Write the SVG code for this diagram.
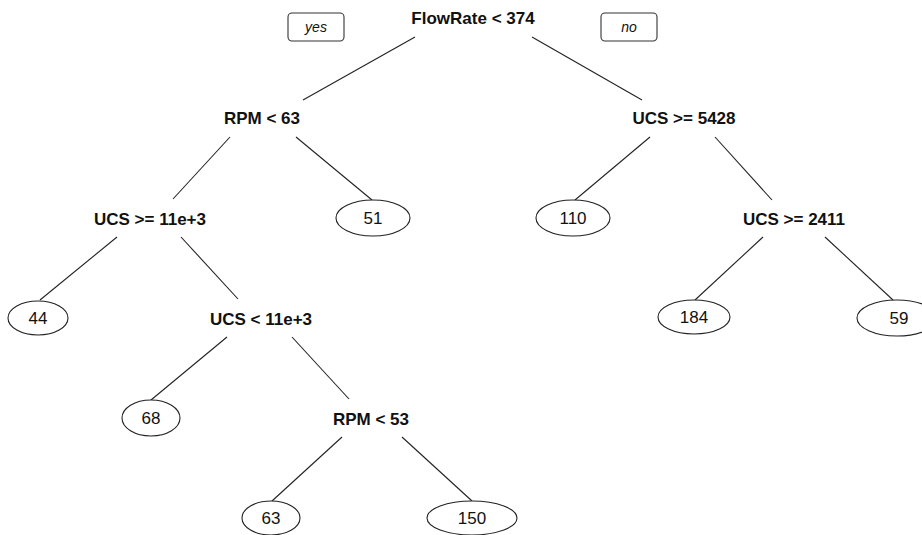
<svg xmlns="http://www.w3.org/2000/svg" width="922" height="535" viewBox="0 0 922 535">
<style>
.bg{fill:#ffffff}
.split{font-family:"Liberation Sans",Arial,sans-serif;font-size:17px;font-weight:bold;fill:#111;text-anchor:middle}
.leaf ellipse{fill:#ffffff;stroke:#222;stroke-width:1.1}
.leaf text{font-family:"Liberation Sans",Arial,sans-serif;font-size:17px;fill:#111;text-anchor:middle}
.tag rect{fill:#ffffff;stroke:#333;stroke-width:1.1}
.tag text{font-family:"Liberation Sans",Arial,sans-serif;font-size:14px;font-style:italic;fill:#111;text-anchor:middle}
#connectors line{stroke:#222;stroke-width:1.1}
</style>
<rect class="bg" x="0" y="0" width="922" height="535"/>
<g id="connectors">
<line x1="415" y1="37" x2="303" y2="100"/>
<line x1="532" y1="37" x2="642" y2="100"/>
<line x1="230" y1="137" x2="173" y2="199"/>
<line x1="296" y1="137" x2="372" y2="200"/>
<line x1="650" y1="137" x2="575" y2="200"/>
<line x1="715" y1="137" x2="772" y2="200"/>
<line x1="117" y1="237" x2="40" y2="300"/>
<line x1="181" y1="237" x2="238" y2="299"/>
<line x1="763" y1="237" x2="695" y2="300"/>
<line x1="825" y1="237" x2="893" y2="300"/>
<line x1="227" y1="337" x2="151" y2="400"/>
<line x1="292" y1="337" x2="349" y2="399"/>
<line x1="342" y1="437" x2="272" y2="501"/>
<line x1="402" y1="437" x2="472" y2="501"/>
</g>
<g id="tag-yes" class="tag"><rect x="288" y="13" width="56" height="28" rx="4"/><text x="316" y="32">yes</text></g>
<g id="tag-no" class="tag"><rect x="601" y="13" width="56" height="28" rx="4"/><text x="629" y="32">no</text></g>
<g id="n-root"><text class="split" x="473" y="24">FlowRate &lt; 374</text></g>
<g id="n-rpm63"><text class="split" x="262" y="124">RPM &lt; 63</text></g>
<g id="n-ucs5428"><text class="split" x="684" y="124">UCS &gt;= 5428</text></g>
<g id="n-ucs11ge"><text class="split" x="150" y="225">UCS &gt;= 11e+3</text></g>
<g id="n-ucs2411"><text class="split" x="794" y="225">UCS &gt;= 2411</text></g>
<g id="n-ucs11lt"><text class="split" x="261" y="325">UCS &lt; 11e+3</text></g>
<g id="n-rpm53"><text class="split" x="371" y="425">RPM &lt; 53</text></g>
<g id="leaf-51" class="leaf"><ellipse cx="373" cy="218" rx="37" ry="18"/><text x="373" y="224">51</text></g>
<g id="leaf-110" class="leaf"><ellipse cx="573" cy="218" rx="37" ry="18"/><text x="573" y="224">110</text></g>
<g id="leaf-44" class="leaf"><ellipse cx="38" cy="318" rx="30" ry="17"/><text x="38" y="324">44</text></g>
<g id="leaf-184" class="leaf"><ellipse cx="694" cy="317" rx="36" ry="17"/><text x="694" y="323">184</text></g>
<g id="leaf-59" class="leaf"><ellipse cx="897" cy="318" rx="40" ry="18"/><text x="899" y="324">59</text></g>
<g id="leaf-68" class="leaf"><ellipse cx="151" cy="418" rx="29" ry="18"/><text x="151" y="424">68</text></g>
<g id="leaf-63" class="leaf"><ellipse cx="271" cy="518" rx="29" ry="17"/><text x="271" y="524">63</text></g>
<g id="leaf-150" class="leaf"><ellipse cx="472" cy="518" rx="45" ry="17"/><text x="472" y="524">150</text></g>
</svg>
